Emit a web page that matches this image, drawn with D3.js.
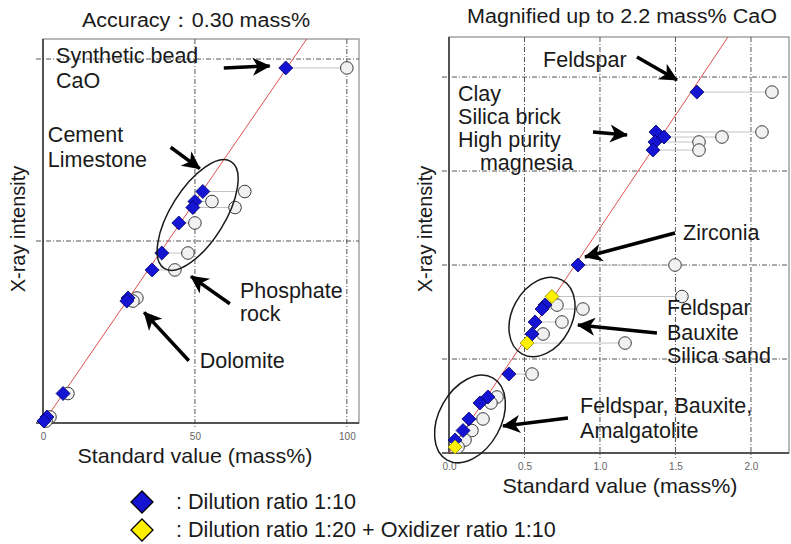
<!DOCTYPE html>
<html><head><meta charset="utf-8">
<script src="https://cdn.jsdelivr.net/npm/d3@7"></script>
<style>
body{margin:0;background:#fff;}
text{font-family:"Liberation Sans",Arial,sans-serif;fill:#1a1a1a;}
</style></head>
<body><svg id="c" width="791" height="544"></svg>
<script>
// ---------- DATA ----------
// Left panel (full range, CaO mass%)
const leftTitle = "Accuracy\uFF1A0.30 mass%";
const leftXTicks = [0, 50, 100];
const leftXTickLabels = ["0", "50", "100"];
const leftYGrid = [1, 2];
const leftDiamondX = [79.9, 52.6, 50.0, 49.3, 44.7, 39.1, 35.9, 28.0, 27.6, 6.6, 1.3, 0.3];
const leftCircleX  = [100.0, 66.4, 55.6, 63.2, 50.0, 47.7, 43.4, 30.9, 29.6, 8.2, 2.3, 1.0];
const leftIntensity = [1.951, 1.272, 1.217, 1.184, 1.099, 0.934, 0.841, 0.687, 0.670, 0.162, 0.033, 0.011];
const leftLine = [[0, 0], [86.8, 2.11]];

// Right panel (magnified up to 2.2 mass%)
const rightTitle = "Magnified up to 2.2 mass% CaO";
const rightXTicks = [0, 0.5, 1.0, 1.5, 2.0];
const rightXTickLabels = ["0.0", "0.5", "1.0", "1.5", "2.0"];
const rightYGrid = [1, 2, 3, 4];
const rightDiamondX = [1.642, 1.371, 1.424, 1.364, 1.351, 0.854, 0.682, 0.636, 0.616, 0.570, 0.550, 0.517, 0.397, 0.258, 0.205, 0.132, 0.093, 0.040, 0.040];
const rightCircleX  = [2.139, 2.073, 1.808, 1.656, 1.656, 1.497, 1.543, 0.715, 0.887, 0.748, 0.623, 1.166, 0.550, 0.318, 0.278, 0.225, 0.152, 0.106, 0.060];
const rightIntensity = [3.84, 3.415, 3.362, 3.309, 3.223, 2.0, 1.665, 1.574, 1.532, 1.394, 1.266, 1.170, 0.840, 0.596, 0.532, 0.362, 0.239, 0.138, 0.064];
const rightRatio = ["1:10","1:10","1:10","1:10","1:10","1:10","1:20","1:10","1:10","1:10","1:10","1:20","1:10","1:10","1:10","1:10","1:10","1:10","1:20"];
const rightLine = [[0, 0], [1.848, 4.426]];

const xLabel = "Standard value (mass%)";
const yLabel = "X-ray intensity";
const legendLabels = [": Dilution ratio 1:10", ": Dilution ratio 1:20 + Oxidizer ratio 1:10"];

// Annotation blocks (data units of each panel); each block is one multi-line text
const leftLabels = [
  [{t:"Synthetic bead", x:4.3, y:1.978}, {t:"CaO", x:4.3, y:1.841}],
  [{t:"Cement", x:1.6, y:1.544}, {t:"Limestone", x:1.6, y:1.407}],
  [{t:"Phosphate", x:64.8, y:0.687}, {t:"rock", x:64.8, y:0.560}],
  [{t:"Dolomite", x:51.6, y:0.302}]
];
const leftArrows = [
  {x1:59.5, y1:1.951, x2:74.6, y2:1.962},
  {x1:42.0, y1:1.515, x2:51.6, y2:1.398},
  {x1:61.5, y1:0.655, x2:48.7, y2:0.806},
  {x1:48.0, y1:0.342, x2:33.3, y2:0.608}
];
const leftEllipses = [{cx:50.9, cy:1.143, a:63, b:27, ang:-58}];

const rightLabels = [
  [{t:"Feldspar", x:0.623, y:4.106}],
  [{t:"Clay", x:0.060, y:3.750}, {t:"Silica brick", x:0.060, y:3.503},
   {t:"High purity", x:0.060, y:3.256}, {t:"magnesia", x:0.205, y:3.009}],
  [{t:"Zirconia", x:1.550, y:2.266}],
  [{t:"Feldspar", x:1.444, y:1.468}, {t:"Bauxite", x:1.444, y:1.202}, {t:"Silica sand", x:1.444, y:0.957}],
  [{t:"Feldspar, Bauxite,", x:0.868, y:0.426}, {t:"Amalgatolite", x:0.868, y:0.160}]
];
const rightArrows = [
  {x1:1.245, y1:4.213, x2:1.510, y2:3.968},
  {x1:0.954, y1:3.415, x2:1.179, y2:3.383},
  {x1:1.497, y1:2.340, x2:0.901, y2:2.085},
  {x1:1.377, y1:1.277, x2:0.854, y2:1.362},
  {x1:0.788, y1:0.372, x2:0.358, y2:0.287}
];
const rightEllipses = [
  {cx:0.616, cy:1.447, a:42, b:30, ang:-62},
  {cx:0.139, cy:0.362, a:47, b:31, ang:-61}
];

// ---------- DRAW ----------
const svg = d3.select("#c");
const defs = svg.append("defs");
defs.append("marker").attr("id","ah").attr("markerUnits","userSpaceOnUse")
  .attr("viewBox","-20 -10 22 20").attr("refX",0).attr("refY",0)
  .attr("markerWidth",22).attr("markerHeight",20).attr("orient","auto")
  .append("path").attr("d","M1,0 L-17,-9 L-12,0 L-17,9 Z").attr("fill","#000");

const colors = {"1:10":"#1414d2", "1:20":"#fff000"};
const strokes = {"1:10":"#00006a", "1:20":"#8a8a00"};
const diamond = (s)=>`M0,${-s} L${s},0 L0,${s} L${-s},0 Z`;

function panel(o){
  const x = d3.scaleLinear().domain(o.xDom).range(o.xR);
  const y = d3.scaleLinear().domain(o.yDom).range(o.yR);
  const g = svg.append("g");
  const clipId = "clip"+o.id;
  defs.append("clipPath").attr("id",clipId).append("rect")
    .attr("x",o.xR[0]).attr("y",o.yR[1]).attr("width",o.xR[1]-o.xR[0]).attr("height",o.yR[0]-o.yR[1]);
  g.append("rect").attr("x",o.xR[0]).attr("y",o.yR[1]).attr("width",o.xR[1]-o.xR[0]).attr("height",o.yR[0]-o.yR[1])
    .attr("fill","none").attr("stroke","#8a8a8a").attr("stroke-width",1.2);
  g.selectAll(".vg").data(o.xTicks.filter(d=>d>0)).join("line")
    .attr("x1",d=>x(d)).attr("x2",d=>x(d)).attr("y1",o.yR[1]).attr("y2",o.yR[0]+5)
    .attr("stroke","#555").attr("stroke-width",1).attr("stroke-dasharray","5,2,1,2");
  g.selectAll(".hg").data(o.yGrid).join("line")
    .attr("x1",o.xR[0]-7).attr("x2",o.xR[1]).attr("y1",d=>y(d)).attr("y2",d=>y(d))
    .attr("stroke","#555").attr("stroke-width",1).attr("stroke-dasharray","5,2,1,2");
  const xa = g.append("g").attr("transform",`translate(0,${o.yR[0]})`)
    .call(d3.axisBottom(x).tickValues(o.xTicks).tickFormat((d,i)=>o.xTickLabels[i]).tickSize(0).tickPadding(10));
  xa.select(".domain").remove();
  xa.selectAll("text").attr("font-size",10).style("fill","#666").attr("font-family","Liberation Sans, Arial, sans-serif");
  g.append("line").attr("x1",o.xR[0]-7).attr("x2",o.xR[1]).attr("y1",o.yR[0]).attr("y2",o.yR[0]).attr("stroke","#333").attr("stroke-width",1.5);
  g.append("line").attr("x1",o.xR[0]).attr("x2",o.xR[0]).attr("y1",o.yR[1]).attr("y2",o.yR[0]).attr("stroke","#333").attr("stroke-width",1.5);
  const pg = g.append("g").attr("clip-path",`url(#${clipId})`);
  pg.append("path").datum(o.line).attr("d",d3.line().x(d=>x(d[0])).y(d=>y(d[1])))
    .attr("stroke","#e05050").attr("stroke-width",1).attr("fill","none");
  const pts = o.dx.map((d,i)=>({dx:d, cx:o.cx[i], y:o.iy[i], r:o.ratio[i]}));
  pg.selectAll(".cn").data(pts).join("line")
    .attr("x1",d=>x(d.dx)).attr("x2",d=>x(d.cx)).attr("y1",d=>y(d.y)).attr("y2",d=>y(d.y))
    .attr("stroke","#c4c4c4").attr("stroke-width",1);
  g.selectAll(".ci").data(pts).join("circle")
    .attr("cx",d=>x(d.cx)).attr("cy",d=>y(d.y)).attr("r",6.3)
    .attr("fill","#f1f1f1").attr("stroke","#3a3a3a").attr("stroke-width",1);
  g.selectAll(".di").data(pts).join("path")
    .attr("transform",d=>`translate(${x(d.dx)},${y(d.y)})`).attr("d",diamond(7))
    .attr("fill",d=>colors[d.r]).attr("stroke",d=>strokes[d.r]).attr("stroke-width",0.8);
  g.selectAll(".el").data(o.ellipses).join("ellipse")
    .attr("transform",d=>`translate(${x(d.cx)},${y(d.cy)}) rotate(${d.ang})`)
    .attr("rx",d=>d.a).attr("ry",d=>d.b).attr("fill","none").attr("stroke","#1a1a1a").attr("stroke-width",1.5);
  g.selectAll(".ar").data(o.arrows).join("line")
    .attr("x1",d=>x(d.x1)).attr("y1",d=>y(d.y1)).attr("x2",d=>x(d.x2)).attr("y2",d=>y(d.y2))
    .attr("stroke","#000").attr("stroke-width",3.5).attr("marker-end","url(#ah)");
  const blockFs = (b)=>{
    if (b.length < 2) return 21.5;
    const sp = d3.min(d3.pairs(b), ([a,c])=>Math.abs(y(c.y)-y(a.y)));
    return Math.min(21.5, sp/1.07);
  };
  const blocks = g.selectAll(".lb").data(o.labels).join("text").attr("font-size",d=>blockFs(d));
  blocks.selectAll("tspan").data(d=>d).join("tspan")
    .attr("x",d=>x(d.x)).attr("y",d=>y(d.y)).text(d=>d.t);
  g.append("text").attr("x",o.titleX).attr("y",o.titleY).attr("text-anchor","middle").attr("font-size",20)
    .attr("textLength",o.titleLen).attr("lengthAdjust","spacingAndGlyphs").text(o.title);
  g.append("text").attr("x",o.xlX).attr("y",o.yR[0]+o.xlDy).attr("text-anchor","middle").attr("font-size",21)
    .attr("textLength",235).attr("lengthAdjust","spacingAndGlyphs").text(xLabel);
  g.append("text").attr("transform",`translate(${o.ylX},${o.ylY}) rotate(-90)`).attr("text-anchor","middle").attr("font-size",20).text(yLabel);
}

panel({id:"L", xDom:[0,104], yDom:[0,2.11], xR:[43,359], yR:[423,39], xTicks:leftXTicks, xTickLabels:leftXTickLabels,
  yGrid:leftYGrid, line:leftLine, dx:leftDiamondX, cx:leftCircleX, iy:leftIntensity, ratio:leftDiamondX.map(()=>"1:10"),
  ellipses:leftEllipses, arrows:leftArrows, labels:leftLabels, title:leftTitle, titleX:196, titleY:27, titleLen:228,
  xlX:195, xlDy:40, ylX:25, ylY:229});
panel({id:"R", xDom:[0,2.252], yDom:[0,4.426], xR:[449,789], yR:[453,37], xTicks:rightXTicks, xTickLabels:rightXTickLabels,
  yGrid:rightYGrid, line:rightLine, dx:rightDiamondX, cx:rightCircleX, iy:rightIntensity, ratio:rightRatio,
  ellipses:rightEllipses, arrows:rightArrows, labels:rightLabels, title:rightTitle, titleX:622, titleY:23, titleLen:310,
  xlX:620, xlDy:40, ylX:432, ylY:229});

// legend
const leg = svg.append("g");
const legKeys = ["1:10","1:20"];
const ly = d3.scalePoint().domain(legKeys).range([502, 530]);
leg.selectAll("path").data(legKeys).join("path")
  .attr("transform",d=>`translate(142,${ly(d)})`).attr("d",diamond(11))
  .attr("fill",d=>colors[d]).attr("stroke","#000").attr("stroke-width",1.3);
leg.selectAll("text").data(legKeys).join("text")
  .attr("x",176).attr("y",d=>ly(d)+7).attr("font-size",21.6).text((d,i)=>legendLabels[i]);
</script></body></html>
